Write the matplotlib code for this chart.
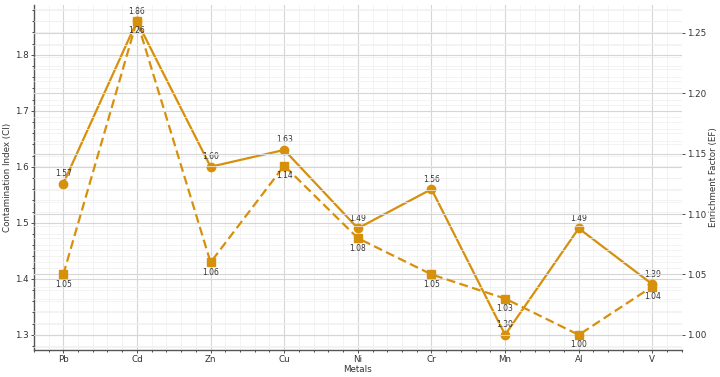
import matplotlib
matplotlib.use('agg')
import matplotlib.pyplot as plt
from matplotlib.ticker import MultipleLocator, AutoMinorLocator

metals = ['Pb', 'Cd', 'Zn', 'Cu', 'Ni', 'Cr', 'Mn', 'Al', 'V']
ci = [1.57, 1.86, 1.60, 1.63, 1.49, 1.56, 1.30, 1.49, 1.39]
ef = [1.05, 1.26, 1.06, 1.14, 1.08, 1.05, 1.03, 1.00, 1.04]

col = '#D6900C'
txt = '#333333'
plt.rcParams['font.family'] = 'DejaVu Sans'

fig = plt.figure(figsize=(7.2, 3.77), dpi=100)
ax = fig.add_axes([0.047, 0.072, 0.900, 0.915])
ax2 = ax.twinx()

x = list(range(len(metals)))

ax.plot(x, ci, color=col, lw=1.6, marker='o', ms=6, zorder=3)
ax2.plot(x, ef, color=col, lw=1.6, ls=(0, (4, 2)), marker='s', ms=6, zorder=3)

for i, v in enumerate(ci):
	ax.annotate('%.2f' % v, (i, v), xytext=(0, 4), textcoords='offset points',
		ha='center', va='bottom', fontsize=5.5, color=txt)
for i, v in enumerate(ef):
	ax2.annotate('%.2f' % v, (i, v), xytext=(0, -4), textcoords='offset points',
		ha='center', va='top', fontsize=5.5, color=txt)

ax.set_xlim(-0.4, 8.4)
ax.set_ylim(1.273, 1.889)
ax2.set_ylim(0.9876, 1.273)

ax.set_xticks(x)
ax.set_xticklabels(metals)
ax.xaxis.set_minor_locator(MultipleLocator(0.2))
ax.yaxis.set_major_locator(MultipleLocator(0.1))
ax.yaxis.set_minor_locator(AutoMinorLocator(5))
ax2.yaxis.set_major_locator(MultipleLocator(0.05))
ax2.yaxis.set_minor_locator(AutoMinorLocator(5))

for a in (ax, ax2):
	a.grid(True, which='major', color='#d6d6d6', lw=0.8)
	a.grid(True, which='minor', color='#efefef', lw=0.5)
	a.set_axisbelow(True)
	a.tick_params(labelsize=6.3, colors=txt, length=2, width=0.6, pad=1.5)
	a.tick_params(which='minor', length=1.2, width=0.5)
	for s in a.spines.values():
		s.set_visible(False)

ax.spines['left'].set_visible(True)
ax.spines['bottom'].set_visible(True)
ax.spines['left'].set_color('#555555')
ax.spines['bottom'].set_color('#555555')
ax.spines['left'].set_linewidth(1.0)
ax.spines['bottom'].set_linewidth(1.0)
ax2.tick_params(which='minor', right=False)

ax.set_xlabel('Metals', fontsize=6.3, color=txt, labelpad=1)
ax.set_ylabel('Contamination Index (CI)', fontsize=6.3, color=txt, labelpad=2)
ax2.set_ylabel('Enrichment Factor (EF)', fontsize=6.3, color=txt, labelpad=2)

fig.savefig('out.png', dpi=100)
